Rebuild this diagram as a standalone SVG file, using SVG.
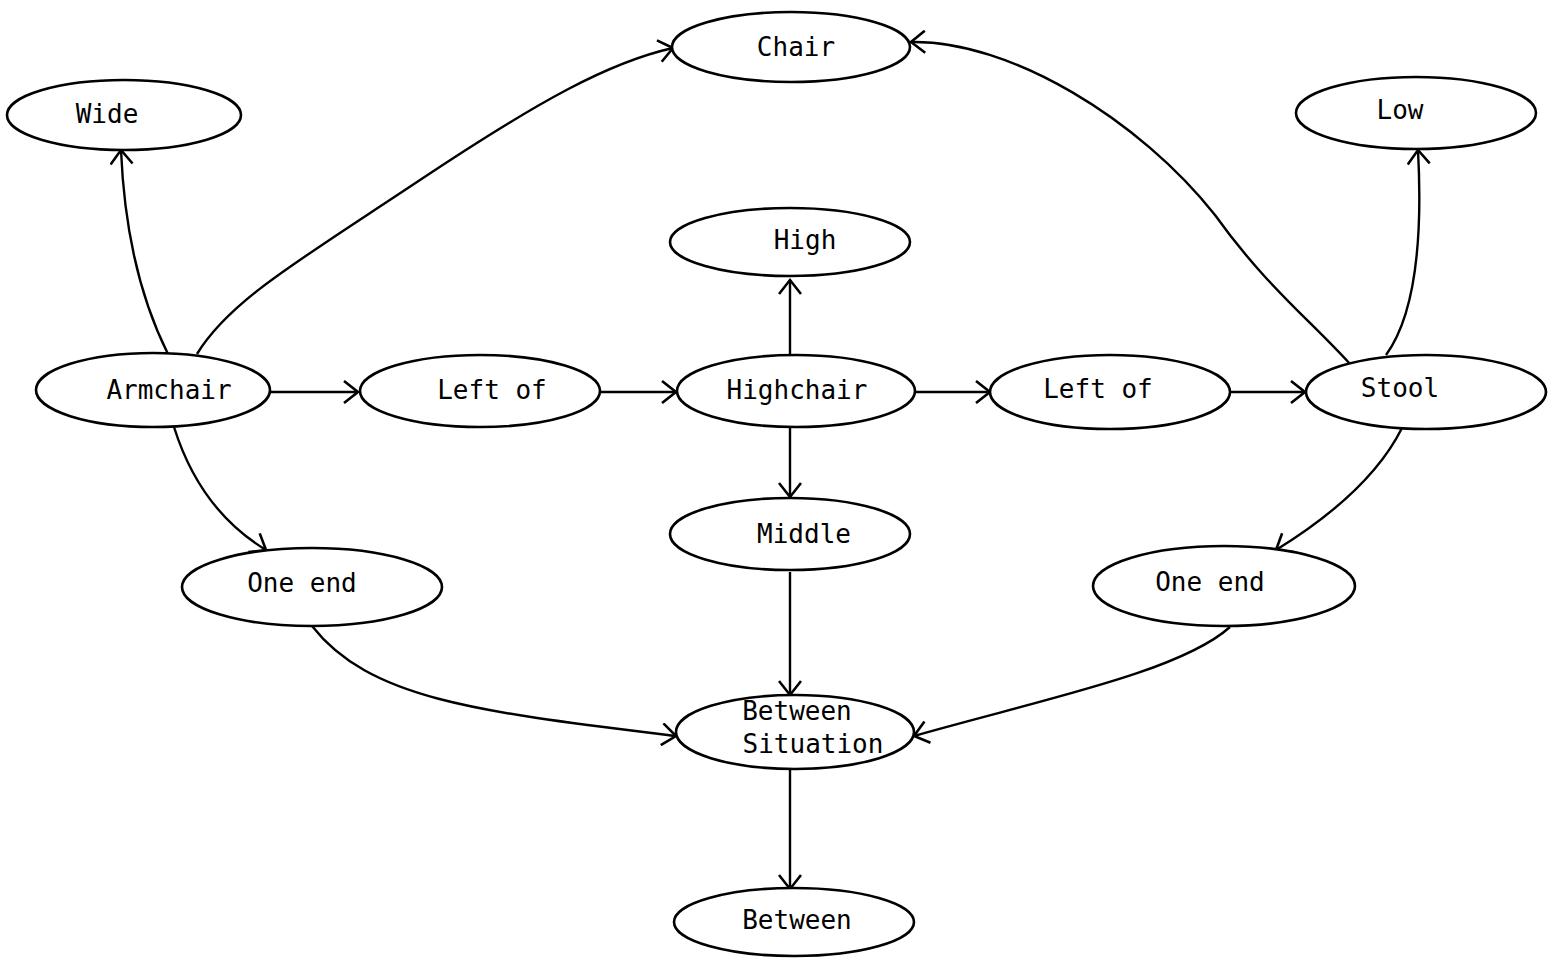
<svg xmlns="http://www.w3.org/2000/svg" width="1557" height="964" viewBox="0 0 1557 964">
  <style>
    .node ellipse { fill: #fff; stroke: #000; stroke-width: 2.6; }
    .node text { font-family: "DejaVu Sans Mono", "Liberation Mono", monospace; font-size: 26px; fill: #000; text-anchor: middle; }
    .edge { fill: none; stroke: #000; stroke-width: 2.4; marker-end: url(#arrow); }
  </style>
  <defs>
    <marker id="arrow" markerUnits="userSpaceOnUse" markerWidth="20" markerHeight="24" viewBox="0 0 20 24" refX="15" refY="12" orient="auto">
      <path d="M1,1 L15,12 L1,23" fill="none" stroke="#000" stroke-width="2.6"/>
    </marker>
  </defs>

  <rect width="1557" height="964" fill="#fff"/>

  <!-- connectors -->
  <g id="connectors">
    <path class="edge" d="M168 354 Q 126 270 121 150"/>
    <path class="edge" d="M197 354 C 230 300, 300 260, 420 180 S 610 62, 673 48"/>
    <path class="edge" d="M270 392 L 358 392"/>
    <path class="edge" d="M601 392 L 676 392"/>
    <path class="edge" d="M915 392 L 990 392"/>
    <path class="edge" d="M1230 392 L 1305 392"/>
    <path class="edge" d="M790 354 L 790 280"/>
    <path class="edge" d="M790 428 L 790 497"/>
    <path class="edge" d="M790 572 L 790 695"/>
    <path class="edge" d="M790 768 L 790 889"/>
    <path class="edge" d="M174 427 Q 200 510 266 550"/>
    <path class="edge" d="M312 626 C 370 700, 480 712, 676 736"/>
    <path class="edge" d="M1350 364 C 1310 320, 1265 285, 1215 215 C 1140 120, 1010 40, 911 42"/>
    <path class="edge" d="M1386 355 Q 1426 300 1418 150"/>
    <path class="edge" d="M1402 428 Q 1370 492 1276 550"/>
    <path class="edge" d="M1230 627 C 1180 672, 1040 700, 914 736"/>
  </g>

  <!-- nodes -->
  <g id="chair" class="node"><ellipse cx="791" cy="47" rx="119" ry="35"/><text x="796" y="56">Chair</text></g>
  <g id="wide" class="node"><ellipse cx="124" cy="115" rx="117" ry="35"/><text x="107" y="123">Wide</text></g>
  <g id="low" class="node"><ellipse cx="1416" cy="113" rx="120" ry="36"/><text x="1400" y="119">Low</text></g>
  <g id="high" class="node"><ellipse cx="790" cy="242" rx="120" ry="34"/><text x="805" y="249">High</text></g>
  <g id="armchair" class="node"><ellipse cx="153" cy="390" rx="117" ry="37"/><text x="169" y="399">Armchair</text></g>
  <g id="left-of-1" class="node"><ellipse cx="480" cy="391" rx="120" ry="36"/><text x="492" y="399">Left of</text></g>
  <g id="highchair" class="node"><ellipse cx="796" cy="391" rx="119" ry="36"/><text x="797" y="399">Highchair</text></g>
  <g id="left-of-2" class="node"><ellipse cx="1110" cy="392" rx="120" ry="37"/><text x="1098" y="398">Left of</text></g>
  <g id="stool" class="node"><ellipse cx="1426" cy="392" rx="120" ry="37"/><text x="1400" y="397">Stool</text></g>
  <g id="middle" class="node"><ellipse cx="790" cy="534" rx="120" ry="36"/><text x="804" y="543">Middle</text></g>
  <g id="one-end-1" class="node"><ellipse cx="312" cy="587" rx="130" ry="39"/><text x="302" y="592">One end</text></g>
  <g id="one-end-2" class="node"><ellipse cx="1224" cy="586" rx="131" ry="40"/><text x="1210" y="591">One end</text></g>
  <g id="between-situation" class="node"><ellipse cx="795" cy="732" rx="119" ry="37"/><text x="797" y="720">Between</text><text x="813" y="753">Situation</text></g>
  <g id="between" class="node"><ellipse cx="794" cy="922" rx="120" ry="34"/><text x="797" y="929">Between</text></g>
</svg>
